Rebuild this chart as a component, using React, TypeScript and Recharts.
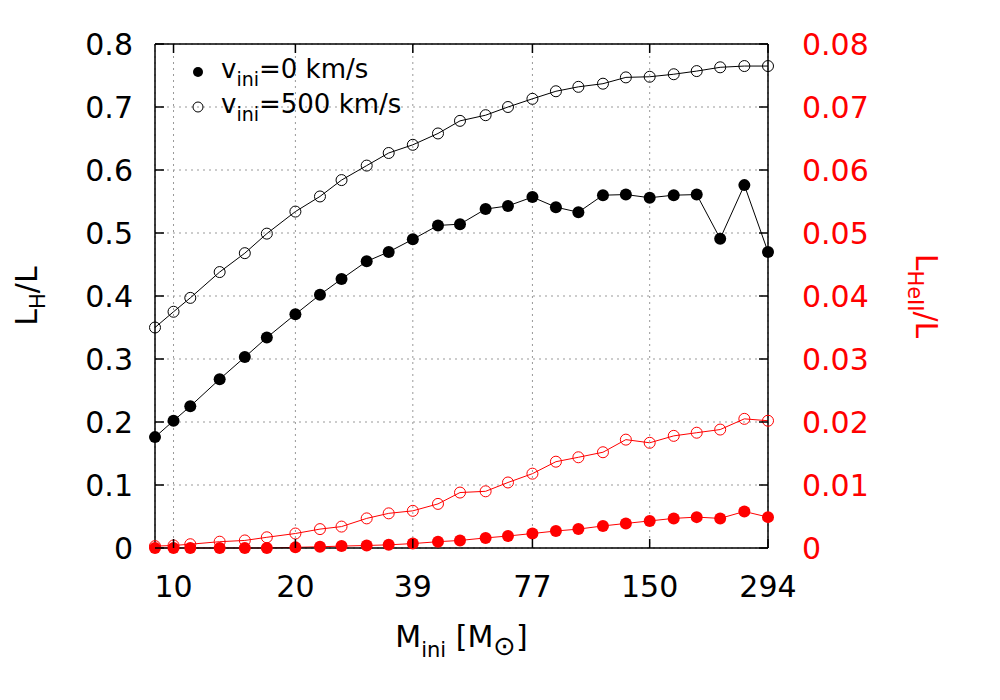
import React from "react";
import {
  LineChart,
  Line,
  XAxis,
  YAxis,
  CartesianGrid,
  ReferenceLine,
  Legend,
  Label,
} from "recharts";

// initial masses (Msun) of the models
const masses = [
  9, 10, 11, 13, 15, 17, 20, 23, 26, 30, 34, 39, 45, 51, 59, 67, 77, 88, 100,
  115, 131, 150, 172, 196, 224, 257, 294,
];

// L_H / L  (left axis)
const lhSlow = [
  0.176, 0.202, 0.225, 0.268, 0.303, 0.334, 0.371, 0.402, 0.427, 0.455, 0.47,
  0.49, 0.512, 0.514, 0.538, 0.543, 0.557, 0.541, 0.533, 0.56, 0.561, 0.556,
  0.56, 0.561, 0.491, 0.576, 0.47,
];
const lhFast = [
  0.35, 0.375, 0.397, 0.438, 0.468, 0.499, 0.534, 0.558, 0.584, 0.607, 0.627,
  0.64, 0.658, 0.678, 0.687, 0.7, 0.713, 0.725, 0.732, 0.737, 0.747, 0.748,
  0.752, 0.757, 0.763, 0.765, 0.765,
];

// L_HeII / L  (right axis)
const lheSlow = [
  0, 0, 0, 0, 0, 0, 0.0001, 0.0002, 0.0003, 0.0004, 0.0005, 0.0007, 0.001,
  0.0012, 0.0016, 0.0019, 0.0023, 0.0027, 0.003, 0.0035, 0.0039, 0.0043,
  0.0047, 0.0049, 0.0047, 0.0058, 0.0049,
];
const lheFast = [
  0.0003, 0.0004, 0.0006, 0.001, 0.0012, 0.0017, 0.0023, 0.003, 0.0034, 0.0047,
  0.0055, 0.0059, 0.007, 0.0088, 0.009, 0.0104, 0.0118, 0.0137, 0.0144, 0.0152,
  0.0172, 0.0167, 0.0178, 0.0183, 0.0188, 0.0205, 0.0202,
];

const massTicks = [10, 20, 39, 77, 150, 294];
const lhTicks = [0, 0.1, 0.2, 0.3, 0.4, 0.5, 0.6, 0.7, 0.8];
const lheTicks = [0, 0.01, 0.02, 0.03, 0.04, 0.05, 0.06, 0.07, 0.08];

const data = masses.map((m, i) => ({
  m,
  lh0: lhSlow[i],
  lh500: lhFast[i],
  lhe0: lheSlow[i],
  lhe500: lheFast[i],
}));

const FONT = "'DejaVu Sans', sans-serif";
const RED = "#ff0000";
const TICK = 9;
const PLOT_H = 504;

const LeftTick = (props: any) => {
  const { x, y, payload } = props;
  const ax = x + 22;
  return (
    <g>
      <line x1={ax} x2={ax + TICK} y1={y} y2={y} stroke="#000" strokeWidth={1.5} />
      <text x={x} y={y + 11} textAnchor="end" fontFamily={FONT} fontSize={30} fill="#000">
        {String(payload.value)}
      </text>
    </g>
  );
};

const RightTick = (props: any) => {
  const { x, y, payload } = props;
  const ax = x - 34;
  return (
    <g>
      <line x1={ax} x2={ax - TICK} y1={y} y2={y} stroke="#000" strokeWidth={1.5} />
      <text x={x} y={y + 11} textAnchor="start" fontFamily={FONT} fontSize={30} fill={RED}>
        {String(payload.value)}
      </text>
    </g>
  );
};

const MassTick = (props: any) => {
  const { x, y, payload } = props;
  const ay = y - 49;
  return (
    <g>
      <line x1={x} x2={x} y1={ay} y2={ay - TICK} stroke="#000" strokeWidth={1.5} />
      <line x1={x} x2={x} y1={ay - PLOT_H} y2={ay - PLOT_H + TICK} stroke="#000" strokeWidth={1.5} />
      <text x={x} y={y} textAnchor="middle" fontFamily={FONT} fontSize={30} fill="#000">
        {String(payload.value)}
      </text>
    </g>
  );
};

const massLabel = (props: any) => {
  const vb = props.viewBox;
  const cx = vb.x + vb.width / 2;
  const by = vb.y + 99;
  return (
    <text x={cx} y={by} textAnchor="middle" fontFamily={FONT} fontSize={30} fill="#000">
      M<tspan dy={10} fontSize={21}>ini</tspan>
      <tspan dy={-10}> [M</tspan>
      <tspan dy={8} fontSize={27}>⊙</tspan>
      <tspan dy={-8}>]</tspan>
    </text>
  );
};

const lhLabel = (props: any) => {
  const vb = props.viewBox;
  const cx = vb.x - 38;
  const cy = vb.y + vb.height / 2;
  return (
    <text
      x={cx}
      y={cy}
      transform={`rotate(-90, ${cx}, ${cy})`}
      textAnchor="middle"
      fontFamily={FONT}
      fontSize={30}
      fill="#000"
    >
      L<tspan dy={8} fontSize={21}>H</tspan>
      <tspan dy={-8}>/L</tspan>
    </text>
  );
};

const lheLabel = (props: any) => {
  const vb = props.viewBox;
  const cx = vb.x + 148;
  const cy = vb.y + vb.height / 2;
  return (
    <text
      x={cx}
      y={cy}
      transform={`rotate(90, ${cx}, ${cy})`}
      textAnchor="middle"
      fontFamily={FONT}
      fontSize={30}
      fill={RED}
    >
      L<tspan dy={8} fontSize={21}>HeII</tspan>
      <tspan dy={-8}>/L</tspan>
    </text>
  );
};

const LegendBox = () => (
  <svg width={280} height={80} style={{ display: "block" }}>
    <circle cx={13} cy={20} r={5} fill="#000" />
    <text x={36} y={26} fontFamily={FONT} fontSize={26} fill="#000">
      v<tspan dy={8} fontSize={19}>ini</tspan>
      <tspan dy={-8}>=0 km/s</tspan>
    </text>
    <circle cx={13} cy={55} r={5} fill="none" stroke="#000" strokeWidth={1} />
    <text x={36} y={61} fontFamily={FONT} fontSize={26} fill="#000">
      v<tspan dy={8} fontSize={19}>ini</tspan>
      <tspan dy={-8}>=500 km/s</tspan>
    </text>
  </svg>
);

export default function App() {
  return (
    <div style={{ position: "absolute", left: 0, top: 0, width: 1000, height: 700, background: "#fff" }}>
      <LineChart
        width={1000}
        height={700}
        data={data}
        margin={{ top: 44, right: 152, bottom: 92, left: 75 }}
      >
        <CartesianGrid yAxisId="left" stroke="#999" strokeDasharray="2 4" strokeWidth={1} />
        <XAxis
          type="number"
          dataKey="m"
          scale="log"
          domain={[9, 294]}
          ticks={massTicks}
          interval={0}
          height={60}
          tickSize={0}
          tickMargin={49}
          tickLine={false}
          tick={<MassTick />}
          axisLine={{ stroke: "#000", strokeWidth: 1.5 }}
        >
          <Label content={massLabel} />
        </XAxis>
        <YAxis
          yAxisId="left"
          domain={[0, 0.8]}
          ticks={lhTicks}
          interval={0}
          width={80}
          tickSize={0}
          tickMargin={22}
          tickLine={false}
          tick={<LeftTick />}
          axisLine={{ stroke: "#000", strokeWidth: 1.5 }}
        >
          <Label content={lhLabel} />
        </YAxis>
        <YAxis
          yAxisId="right"
          orientation="right"
          domain={[0, 0.08]}
          ticks={lheTicks}
          interval={0}
          width={80}
          tickSize={0}
          tickMargin={34}
          tickLine={false}
          tick={<RightTick />}
          axisLine={{ stroke: "#000", strokeWidth: 1.5 }}
        >
          <Label content={lheLabel} />
        </YAxis>
        <ReferenceLine yAxisId="left" y={0.8} stroke="#000" strokeWidth={1.5} />
        <Legend
          layout="vertical"
          align="center"
          verticalAlign="middle"
          content={() => <LegendBox />}
          wrapperStyle={{ left: 185, top: 52, width: 280, height: 80 }}
        />
        <Line
          yAxisId="right"
          dataKey="lhe500"
          stroke={RED}
          strokeWidth={1}
          dot={{ r: 5.5, fill: "none", stroke: RED, strokeWidth: 1 }}
          activeDot={false}
          isAnimationActive={false}
          legendType="none"
        />
        <Line
          yAxisId="right"
          dataKey="lhe0"
          stroke={RED}
          strokeWidth={1}
          dot={{ r: 6, fill: RED, stroke: "none" }}
          activeDot={false}
          isAnimationActive={false}
          legendType="none"
        />
        <Line
          yAxisId="left"
          dataKey="lh500"
          stroke="#000"
          strokeWidth={1}
          dot={{ r: 5.5, fill: "none", stroke: "#000", strokeWidth: 1 }}
          activeDot={false}
          isAnimationActive={false}
          legendType="none"
        />
        <Line
          yAxisId="left"
          dataKey="lh0"
          stroke="#000"
          strokeWidth={1}
          dot={{ r: 6, fill: "#000", stroke: "none" }}
          activeDot={false}
          isAnimationActive={false}
          legendType="none"
        />
      </LineChart>
    </div>
  );
}
